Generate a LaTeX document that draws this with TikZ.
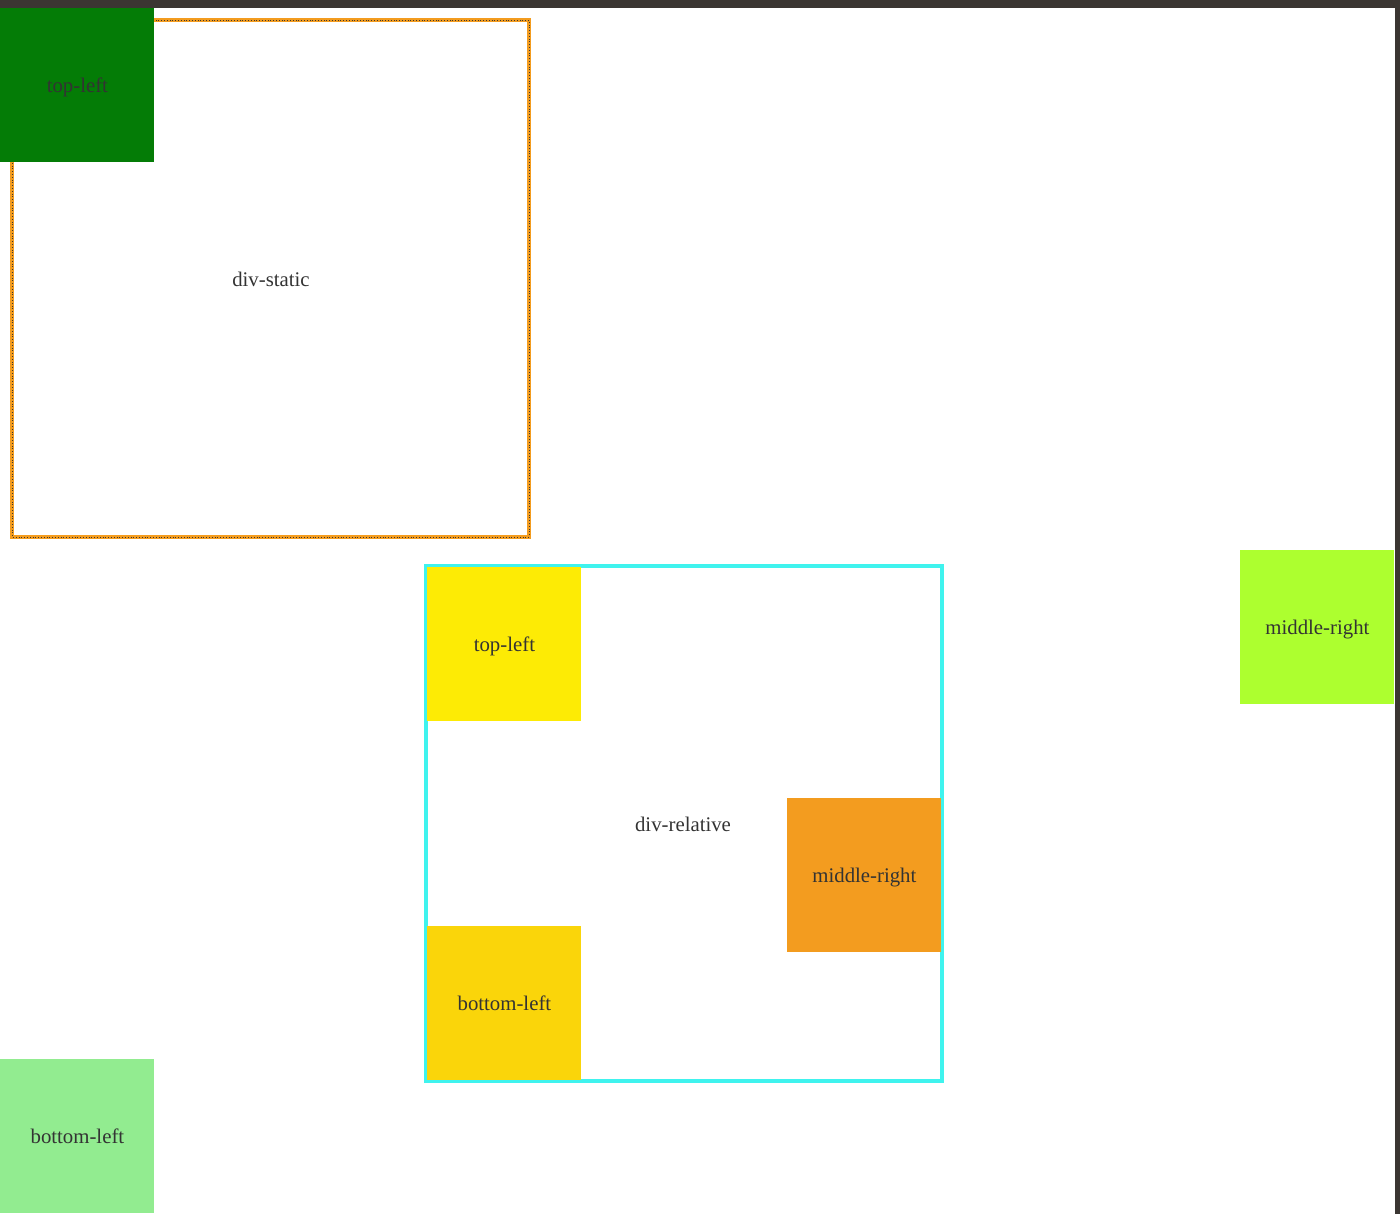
\documentclass[tikz,border=0pt]{standalone}
\usepackage{fontspec}
\setmainfont{Liberation Serif}
\usetikzlibrary{positioning}
\usetikzlibrary{calc}

\definecolor{barcol}{HTML}{3B3632}
\definecolor{txtcol}{HTML}{333333}
\definecolor{staticcol}{HTML}{F39C1F}
\definecolor{relcol}{HTML}{3FF3EE}
\definecolor{greencol}{HTML}{047C06}
\definecolor{yellowcol}{HTML}{FDEB05}
\definecolor{orangecol}{HTML}{F39C1F}
\definecolor{mixcol}{HTML}{FAD50A}
\definecolor{gyellowcol}{HTML}{ADFF2F}
\definecolor{lgreencol}{HTML}{92EC90}

\tikzset{
  every node/.style={text=txtcol, font=\fontsize{10.4}{12}\selectfont,
    text height=9.5pt, text depth=2pt},
  box/.style={rectangle, anchor=north west, inner sep=0pt,
    minimum width=77pt, minimum height=77pt, fill=#1},
  divlabel/.style={inner sep=0pt}
}

\begin{document}
\begin{tikzpicture}[x=0.5pt, y=-0.5pt]
\useasboundingbox (0,0) rectangle (1400,1214);

% frame of the window
\fill[barcol] (0,0) rectangle (1400,8);
\fill[barcol] (1395,0) rectangle (1400,1214);

% div-static
\draw[staticcol, line width=2pt] (12,20) rectangle (529,537);
\draw[barcol, line width=0.4pt, densely dotted] (12,20) rectangle (529,537);
\node[divlabel] (static) at (271,279) {div-static};

% div-relative
\draw[relcol, line width=2pt] (426,566) rectangle (942,1081);
\node[divlabel] (relative) at (683,824) {div-relative};

% boxes inside div-relative
\node[box=yellowcol] (reltl) at (427,567) {top-left};
\node[box=orangecol] (relmr) at (787,798) {middle-right};
\node[box=mixcol] (relbl) at (427,926) {bottom-left};

% boxes on the page
\node[box=greencol] (pagetl) at (0,8) {top-left};
\node[box=gyellowcol] (pagemr) at (1240,550) {middle-right};
\node[box=lgreencol] (pagebl) at (0,1059) {bottom-left};
\end{tikzpicture}
\end{document}
